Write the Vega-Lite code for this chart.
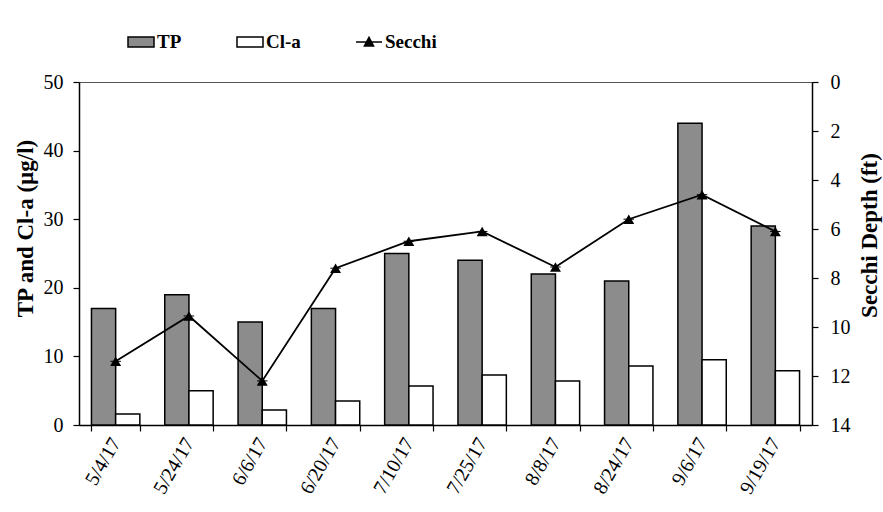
{
  "$schema": "https://vega.github.io/schema/vega-lite/v6.json",
  "width": 733,
  "height": 343,
  "autosize": "none",
  "padding": {"left": 79, "top": 82, "right": 71, "bottom": 87},
  "background": "white",
  "config": {
    "font": "Liberation Serif",
    "view": {"stroke": "#555555", "strokeWidth": 1},
    "axis": {"labelFont": "Liberation Serif", "titleFont": "Liberation Serif", "labelColor": "black", "titleColor": "black", "domainColor": "black", "tickColor": "black", "labelFontSize": 20, "titleFontSize": 23, "titleFontWeight": "bold", "grid": false, "domainWidth": 1.5, "tickWidth": 1.2}
  },
  "data": {"values": [
    {"date": "5/4/17", "series": "TP", "value": 17},
    {"date": "5/24/17", "series": "TP", "value": 19},
    {"date": "6/6/17", "series": "TP", "value": 15},
    {"date": "6/20/17", "series": "TP", "value": 17},
    {"date": "7/10/17", "series": "TP", "value": 25},
    {"date": "7/25/17", "series": "TP", "value": 24},
    {"date": "8/8/17", "series": "TP", "value": 22},
    {"date": "8/24/17", "series": "TP", "value": 21},
    {"date": "9/6/17", "series": "TP", "value": 44},
    {"date": "9/19/17", "series": "TP", "value": 29},
    {"date": "5/4/17", "series": "Cl-a", "value": 1.6},
    {"date": "5/24/17", "series": "Cl-a", "value": 5},
    {"date": "6/6/17", "series": "Cl-a", "value": 2.2},
    {"date": "6/20/17", "series": "Cl-a", "value": 3.5},
    {"date": "7/10/17", "series": "Cl-a", "value": 5.7},
    {"date": "7/25/17", "series": "Cl-a", "value": 7.3},
    {"date": "8/8/17", "series": "Cl-a", "value": 6.4},
    {"date": "8/24/17", "series": "Cl-a", "value": 8.6},
    {"date": "9/6/17", "series": "Cl-a", "value": 9.5},
    {"date": "9/19/17", "series": "Cl-a", "value": 7.9},
    {"date": "5/4/17", "series": "Secchi", "value": 11.4},
    {"date": "5/24/17", "series": "Secchi", "value": 9.55},
    {"date": "6/6/17", "series": "Secchi", "value": 12.2},
    {"date": "6/20/17", "series": "Secchi", "value": 7.6},
    {"date": "7/10/17", "series": "Secchi", "value": 6.5},
    {"date": "7/25/17", "series": "Secchi", "value": 6.1},
    {"date": "8/8/17", "series": "Secchi", "value": 7.55},
    {"date": "8/24/17", "series": "Secchi", "value": 5.6},
    {"date": "9/6/17", "series": "Secchi", "value": 4.6},
    {"date": "9/19/17", "series": "Secchi", "value": 6.1}
  ]},
  "encoding": {
    "x": {
      "field": "date", "type": "nominal", "sort": null,
      "scale": {"domain": ["5/4/17","5/24/17","6/6/17","6/20/17","7/10/17","7/25/17","8/8/17","8/24/17","9/6/17","9/19/17"], "paddingInner": 0.34, "paddingOuter": 0.17},
      "axis": {"title": null, "labelAngle": -60, "labelAlign": "right", "labelBaseline": "middle", "tickBand": "extent", "labelPadding": 8, "tickSize": 6}
    }
  },
  "layer": [
    {
      "transform": [{"filter": "datum.series !== 'Secchi'"}],
      "mark": {"type": "bar", "stroke": "black", "strokeWidth": 1.5},
      "encoding": {
        "xOffset": {"field": "series", "type": "nominal", "sort": ["TP", "Cl-a"], "scale": {"paddingInner": 0, "paddingOuter": 0}},
        "y": {"field": "value", "type": "quantitative", "scale": {"domain": [0, 50]}, "axis": {"title": "TP and Cl-a (µg/l)", "values": [0,10,20,30,40,50], "tickSize": 6, "labelPadding": 10, "titlePadding": 6, "titleY": 146}},
        "fill": {
          "field": "series", "type": "nominal",
          "scale": {"domain": ["TP", "Cl-a", "Secchi"], "range": ["#8c8c8c", "#ffffff", "#000000"]},
          "legend": {
            "title": null, "orient": "none", "legendX": 48, "legendY": -54, "direction": "horizontal",
            "labelFont": "Liberation Serif", "labelFontSize": 19, "labelFontWeight": "bold", "labelColor": "black",
            "symbolSize": 676, "columnPadding": 52, "labelOffset": 2, "symbolStrokeColor": "black", "symbolStrokeWidth": 1.5
          }
        }
      }
    },
    {
      "transform": [{"filter": "datum.series === 'Secchi'"}],
      "encoding": {
        "y": {"field": "value", "type": "quantitative", "scale": {"domain": [0, 14], "reverse": true}, "axis": {"orient": "right", "title": "Secchi Depth (ft)", "titleAngle": -90, "titleBaseline": "top", "values": [0,2,4,6,8,10,12,14], "tickSize": 6, "labelPadding": 12, "titlePadding": 8, "titleY": 153}}
      },
      "layer": [
        {"mark": {"type": "line", "color": "black", "strokeWidth": 1.8}},
        {"mark": {"type": "point", "filled": true, "size": 110, "opacity": 1, "stroke": "black", "strokeWidth": 1},
         "encoding": {
           "fill": {"field": "series", "type": "nominal"},
           "shape": {"field": "series", "type": "nominal", "scale": {"domain": ["TP", "Cl-a", "Secchi"], "range": ["M-1,-0.38H1V0.38H-1Z", "M-1,-0.38H1V0.38H-1Z", "M-0.35,0.3L0,-0.35L0.35,0.3ZM-1,0H1"]}}
         }},
        {"mark": {"type": "point", "shape": "triangle-up", "filled": true, "size": 120, "opacity": 1, "color": "black"}}
      ]
    }
  ],
  "resolve": {"scale": {"y": "independent"}}
}
